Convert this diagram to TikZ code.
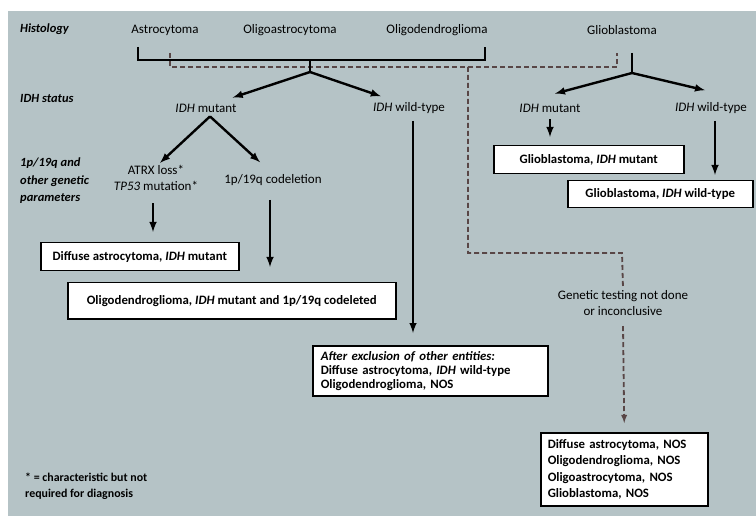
\documentclass[tikz,border=0pt]{standalone}
\usepackage{fontspec}
\setmainfont{Carlito}
\usepackage{tikz}
\usetikzlibrary{calc}
\definecolor{panel}{RGB}{181,195,198}
\definecolor{dashline}{RGB}{88,70,70}

\begin{document}
\begin{tikzpicture}[x=1pt, y=-1pt,
    every node/.style={font=\fontsize{13}{15}\selectfont},
    side/.style={anchor=west, align=left, inner sep=0pt, font=\fontsize{12.5}{17.5}\selectfont\bfseries\itshape},
    lbl/.style={align=center, inner sep=2pt, font=\fontsize{13}{16.5}\selectfont},
    res/.style={draw, line width=1.5pt, fill=white, anchor=north west, font=\fontsize{12.8}{14}\selectfont\bfseries},
    arr/.style={-latex, line width=2.4pt},
    stem/.style={line width=2.4pt},
    dsh/.style={dash pattern=on 5pt off 3pt, line width=1.8pt, color=dashline}]
    \useasboundingbox (0,0) rectangle (756,516);
    \fill[white] (0,0) rectangle (756,516);
    \fill[panel] (8,11) rectangle (756,516);

    \node[side] (hist) at (20,29) {Histology};
    \node[side] (idhlbl) at (20,98) {IDH status};
    \node[side] (genlbl) at (20,181) {1p/19q and\\other genetic\\parameters};
    \node[side, font=\fontsize{11.9}{16}\selectfont\bfseries] (note) at (25,486) {* = characteristic but not\\required for diagnosis};

    \node[lbl] (astro) at (165,30) {Astrocytoma};
    \node[lbl] (oligoastro) at (290,30) {Oligoastrocytoma};
    \node[lbl] (oligodendro) at (437,30) {Oligodendroglioma};
    \node[lbl] (glio) at (622,30) {Glioblastoma};

    \node[lbl] (idhmut) at (206,108) {\textit{IDH} mutant};
    \node[lbl] (idhwt) at (409,108) {\textit{IDH} wild-type};
    \node[lbl] (gidhmut) at (550,108) {\textit{IDH} mutant};
    \node[lbl] (gidhwt) at (711,108) {\textit{IDH} wild-type};

    \node[lbl] (atrx) at (156,178) {ATRX loss*\\\textit{TP53} mutation*};
    \node[lbl] (codel) at (273,180) {1p/19q codeletion};
    \node[lbl] (gtest) at (623,303) {Genetic testing not done\\or inconclusive};

    \node[res, minimum width=198pt, minimum height=28pt] (diffastro) at (40,242) {Diffuse astrocytoma, \textit{IDH} mutant};
    \node[res, minimum width=328pt, minimum height=36pt] (oligocodel) at (67,282) {Oligodendroglioma, \textit{IDH} mutant and 1p/19q codeleted};
    \node[res, minimum width=190pt, minimum height=28pt] (gbmmut) at (493,145) {Glioblastoma, \textit{IDH} mutant};
    \node[res, minimum width=185pt, minimum height=27pt] (gbmwt) at (567,180) {Glioblastoma, \textit{IDH} wild-type};
    \node[res, minimum height=50pt, text width=219pt, inner xsep=8pt, align=left] (after) at (312,345) {\textit{After exclusion of other entities:}\\Diffuse astrocytoma, \textit{IDH} wild-type\\Oligodendroglioma, NOS};
    \node[res, minimum height=73pt, text width=153pt, inner xsep=7pt, align=left, font=\fontsize{12.8}{16.5}\selectfont\bfseries] (nos) at (540,432) {Diffuse astrocytoma, NOS\\Oligodendroglioma, NOS\\Oligoastrocytoma, NOS\\Glioblastoma, NOS};

    \coordinate (bl) at (138,47);
    \coordinate (split) at (310,60);
    \coordinate (br) at (485,47);
    \coordinate (fork) at (310,72);
    \coordinate (dl) at (170,53);
    \coordinate (dj) at (468,67);
    \coordinate (dr) at (617,53);
    \coordinate (dturn) at (622,253);
    \coordinate (gtop) at (632,53);
    \coordinate (gfork) at (632,73);

    \draw[dsh] (dl) |- (dj) -| (dr);
    \draw[dsh] (dj) |- (dturn) -- (gtest.north);
    \draw[dsh, -latex] ([yshift=-8pt]gtest.south) -- ([yshift=9pt]nos.north);

    \draw[stem] (bl) |- (split) -| (br);
    \draw[stem] (split) -- (fork);
    \draw[arr] (fork) -- ([xshift=-6pt, yshift=4pt]idhmut.north east);
    \draw[arr] (fork) -- ([xshift=10pt, yshift=4pt]idhwt.north west);
    \draw[stem] (gtop) -- (gfork);
    \draw[arr] (gfork) -- ([xshift=5pt, yshift=8pt]gidhmut.north);
    \draw[arr] (gfork) -- ([xshift=-6pt, yshift=10pt]gidhwt.north);

    \draw[arr] ([xshift=4pt, yshift=-2pt]idhmut.south) -- ([xshift=4pt]atrx.north);
    \draw[arr] ([xshift=4pt, yshift=-2pt]idhmut.south) -- ([xshift=-13pt, yshift=10pt]codel.north);
    \draw[arr] ([xshift=-3pt, yshift=-10pt]atrx.south) -- ([xshift=-3pt, yshift=10pt]atrx.south |- diffastro.north);
    \draw[arr] ([xshift=-3pt, yshift=-12pt]codel.south) -- ([xshift=-3pt, yshift=15pt]codel.south |- oligocodel.north);
    \draw[arr] ([xshift=4pt, yshift=-5pt]idhwt.south) -- ([xshift=4pt, yshift=12pt]idhwt.south |- after.north);
    \draw[arr] ([yshift=-5pt]gidhmut.south) -- ([yshift=8pt]gidhmut.south |- gbmmut.north);
    \draw[arr] ([xshift=4pt, yshift=-5pt]gidhwt.south) -- ([xshift=4pt, yshift=5pt]gidhwt.south |- gbmwt.north);
\end{tikzpicture}
\end{document}
